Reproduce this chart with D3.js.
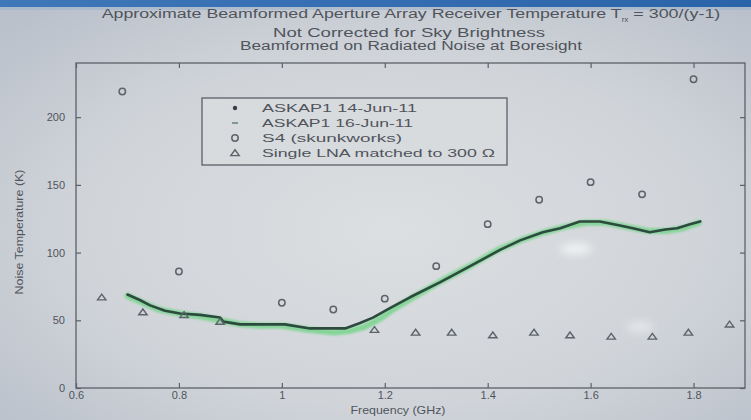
<!DOCTYPE html>
<html>
<head>
<meta charset="utf-8">
<script src="https://cdn.jsdelivr.net/npm/d3@7"></script>
<style>
  html, body { margin: 0; padding: 0; overflow: hidden; background: #cdd1d7; }
  svg { display: block; }
  text { font-family: "Liberation Sans", Arial, sans-serif; fill: #50545c; }
</style>
</head>
<body>
<svg id="chart" width="751" height="420"></svg>
<script>
// ASKAP1 receiver temperature, 14-Jun-11 run (GHz, K)
const askap14Freq = [0.70, 0.724, 0.744, 0.773, 0.802, 0.841, 0.88, 0.886, 0.919, 0.958, 1.006, 1.055, 1.094, 1.123, 1.152, 1.177, 1.21, 1.249, 1.307, 1.366, 1.424, 1.463, 1.507, 1.541, 1.579, 1.618, 1.657, 1.682, 1.715, 1.745, 1.768, 1.793, 1.813];
const askap14Temp = [69, 65, 61, 57, 55, 54, 52, 49, 47, 47, 47, 44, 44, 44, 48, 52, 59, 67, 78, 90, 102, 109, 115, 118, 123, 123, 120, 118, 115, 117, 118, 121, 123];

// ASKAP1 receiver temperature, 16-Jun-11 run (GHz, K)
const askap16Freq = [0.70, 0.73, 0.76, 0.80, 0.84, 0.88, 0.92, 0.96, 1.00, 1.05, 1.10, 1.13, 1.16, 1.19, 1.22, 1.26, 1.31, 1.37, 1.42, 1.47, 1.51, 1.55, 1.59, 1.63, 1.67, 1.71, 1.75, 1.78, 1.81];
const askap16Temp = [68, 63, 58, 55, 53, 50, 47, 46, 46, 43, 41, 42, 45, 51, 59, 68, 79, 91, 102, 110, 115, 119, 122, 122, 119, 116, 116, 118, 122];

// S4 (skunkworks) measurements
const s4Freq = [0.69, 0.80, 1.00, 1.10, 1.20, 1.30, 1.40, 1.50, 1.60, 1.70, 1.80];
const s4Temp = [219, 86, 63, 58, 66, 90, 121, 139, 152, 143, 228];

// Single LNA matched to 300 ohm
const lnaFreq = [0.65, 0.73, 0.81, 0.88, 1.18, 1.26, 1.33, 1.41, 1.49, 1.56, 1.64, 1.72, 1.79, 1.87];
const lnaTemp = [67, 56, 54, 49, 43, 41, 41, 39, 41, 39, 38, 38, 41, 47];

const xTicks = [0.6, 0.8, 1, 1.2, 1.4, 1.6, 1.8];
const yTicks = [0, 50, 100, 150, 200];
const legendLabels = ["ASKAP1 14-Jun-11", "ASKAP1 16-Jun-11", "S4 (skunkworks)", "Single LNA matched to 300 \u03A9"];

const svg = d3.select("#chart");
const W = 751, H = 420;
const plot = { left: 76, right: 745, top: 63, bottom: 388 };

// ---- backdrop ----
const defs = svg.append("defs");
const bg = defs.append("radialGradient").attr("id", "bgGrad")
  .attr("cx", "52%").attr("cy", "55%").attr("r", "70%");
bg.append("stop").attr("offset", "0%").attr("stop-color", "#dcdfe1");
bg.append("stop").attr("offset", "60%").attr("stop-color", "#d0d4d9");
bg.append("stop").attr("offset", "100%").attr("stop-color", "#bac1cb");
defs.append("filter").attr("id", "soft").attr("x", "-50%").attr("y", "-100%").attr("width", "200%").attr("height", "300%")
  .append("feGaussianBlur").attr("stdDeviation", 5);
defs.append("filter").attr("id", "halo").append("feGaussianBlur").attr("stdDeviation", 0.9);

const topBar = defs.append("linearGradient").attr("id", "barGrad").attr("x1", 0).attr("x2", 1);
topBar.append("stop").attr("offset", "0%").attr("stop-color", "#3f78b9");
topBar.append("stop").attr("offset", "100%").attr("stop-color", "#2a64a8");

svg.append("rect").attr("width", W).attr("height", H).attr("fill", "url(#bgGrad)");
svg.append("rect").attr("width", W).attr("height", 7).attr("fill", "url(#barGrad)");
svg.append("rect").attr("y", 7).attr("width", W).attr("height", 3).attr("fill", "#9fb3cc").attr("opacity", 0.6);

// glare spots on the screen
svg.append("ellipse").attr("cx", 576).attr("cy", 249).attr("rx", 16).attr("ry", 5)
  .attr("fill", "#ffffff").attr("opacity", 0.75).attr("filter", "url(#soft)");
svg.append("ellipse").attr("cx", 640).attr("cy", 327).attr("rx", 13).attr("ry", 4)
  .attr("fill", "#ffffff").attr("opacity", 0.6).attr("filter", "url(#soft)");

// ---- scales ----
const x = d3.scaleLinear().domain([0.6, 1.9]).range([plot.left, plot.right]);
const y = d3.scaleLinear().domain([0, 240]).range([plot.bottom, plot.top]);

const axisColor = "#5c6068";

// frame
svg.append("rect")
  .attr("x", plot.left).attr("y", plot.top)
  .attr("width", plot.right - plot.left).attr("height", plot.bottom - plot.top)
  .attr("fill", "none").attr("stroke", axisColor).attr("stroke-width", 1.3);

// axes with inward ticks (left/bottom labelled, top/right bare)
const styleAxis = g => {
  g.select(".domain").remove();
  g.selectAll(".tick line").attr("stroke", axisColor).attr("stroke-width", 1.2);
  g.selectAll(".tick text").style("font-size", "11px").attr("fill", "#50545c");
};
svg.append("g").attr("transform", `translate(0,${plot.bottom})`)
  .call(d3.axisBottom(x).tickValues(xTicks).tickSizeInner(-5).tickPadding(3).tickFormat(d3.format("")))
  .call(styleAxis);
svg.append("g").attr("transform", `translate(0,${plot.top})`)
  .call(d3.axisTop(x).tickValues(xTicks).tickSizeInner(-5).tickFormat(""))
  .call(styleAxis);
svg.append("g").attr("transform", `translate(${plot.left},0)`)
  .call(d3.axisLeft(y).tickValues(yTicks).tickSizeInner(-5).tickPadding(11))
  .call(styleAxis);
svg.append("g").attr("transform", `translate(${plot.right},0)`)
  .call(d3.axisRight(y).tickValues(yTicks).tickSizeInner(-5).tickFormat(""))
  .call(styleAxis);

// ---- data ----
const line = d3.line().x(d => x(d[0])).y(d => y(d[1]));
const s16 = d3.zip(askap16Freq, askap16Temp);
const s14 = d3.zip(askap14Freq, askap14Temp);

svg.append("path").datum(s16).attr("d", line)
  .attr("fill", "none").attr("stroke", "#72d487").attr("stroke-width", 6)
  .attr("stroke-linejoin", "round").attr("stroke-linecap", "round")
  .attr("opacity", 0.8).attr("filter", "url(#halo)");
svg.append("path").datum(s14).attr("d", line)
  .attr("fill", "none").attr("stroke", "#2c4a3e").attr("stroke-width", 2.6)
  .attr("stroke-linejoin", "round").attr("stroke-linecap", "round");

const markColor = "#5e626a";
svg.append("g").selectAll("circle").data(d3.zip(s4Freq, s4Temp)).join("circle")
  .attr("cx", d => x(d[0])).attr("cy", d => y(d[1])).attr("r", 3.2)
  .attr("fill", "none").attr("stroke", markColor).attr("stroke-width", 1.5);

const triPath = "M-4.2,2.6L4.2,2.6L0,-3.2Z";
svg.append("g").selectAll("path").data(d3.zip(lnaFreq, lnaTemp)).join("path")
  .attr("transform", d => `translate(${x(d[0])},${y(d[1])})`)
  .attr("d", triPath)
  .attr("fill", "none").attr("stroke", markColor).attr("stroke-width", 1.4);

// ---- legend ----
const leg = svg.append("g").attr("transform", "translate(202,98)");
leg.append("rect").attr("width", 305).attr("height", 67)
  .attr("fill", "#d8dbde").attr("stroke", axisColor).attr("stroke-width", 1.3);
const rowY = i => 10 + i * 15;
const labelWidths = [155, 151, 140, 233];
leg.selectAll("text.lab").data(legendLabels).join("text").attr("class", "lab")
  .attr("x", 60).attr("y", (d, i) => rowY(i) + 4)
  .attr("textLength", (d, i) => labelWidths[i]).attr("lengthAdjust", "spacingAndGlyphs")
  .style("font-size", "11.5px").text(d => d);
leg.append("circle").attr("cx", 33).attr("cy", rowY(0)).attr("r", 2.2).attr("fill", "#3a3e44");
leg.append("line").attr("x1", 30).attr("x2", 36).attr("y1", rowY(1)).attr("y2", rowY(1))
  .attr("stroke", "#6a8a74").attr("stroke-width", 1.6);
leg.append("circle").attr("cx", 33).attr("cy", rowY(2)).attr("r", 3.2)
  .attr("fill", "none").attr("stroke", markColor).attr("stroke-width", 1.5);
leg.append("path").attr("transform", `translate(33,${rowY(3)})`).attr("d", triPath)
  .attr("fill", "none").attr("stroke", markColor).attr("stroke-width", 1.4);

// ---- titles and axis labels ----
const t1 = svg.append("text").attr("x", 411).attr("y", 18).attr("text-anchor", "middle")
  .style("font-size", "12px");
t1.append("tspan").attr("textLength", 520).attr("lengthAdjust", "spacingAndGlyphs")
  .text("Approximate Beamformed Aperture Array Receiver Temperature T");
t1.append("tspan").attr("dy", 4).style("font-size", "8px").text("rx");
t1.append("tspan").attr("dy", -4).attr("textLength", 92).attr("lengthAdjust", "spacingAndGlyphs")
  .text(" = 300/(y-1)");

svg.append("text").attr("x", 409).attr("y", 37).attr("text-anchor", "middle")
  .attr("textLength", 272).attr("lengthAdjust", "spacingAndGlyphs")
  .style("font-size", "12px").text("Not Corrected for Sky Brightness");
svg.append("text").attr("x", 411).attr("y", 50).attr("text-anchor", "middle")
  .attr("textLength", 342).attr("lengthAdjust", "spacingAndGlyphs")
  .style("font-size", "12px").text("Beamformed on Radiated Noise at Boresight");

svg.append("text").attr("x", 398).attr("y", 414).attr("text-anchor", "middle")
  .attr("textLength", 95).attr("lengthAdjust", "spacingAndGlyphs")
  .style("font-size", "10.5px").text("Frequency (GHz)");
svg.append("text").attr("transform", "translate(23,232) rotate(-90)").attr("text-anchor", "middle")
  .attr("textLength", 125).attr("lengthAdjust", "spacingAndGlyphs")
  .style("font-size", "10.5px").text("Noise Temperature (K)");
</script>
</body>
</html>
